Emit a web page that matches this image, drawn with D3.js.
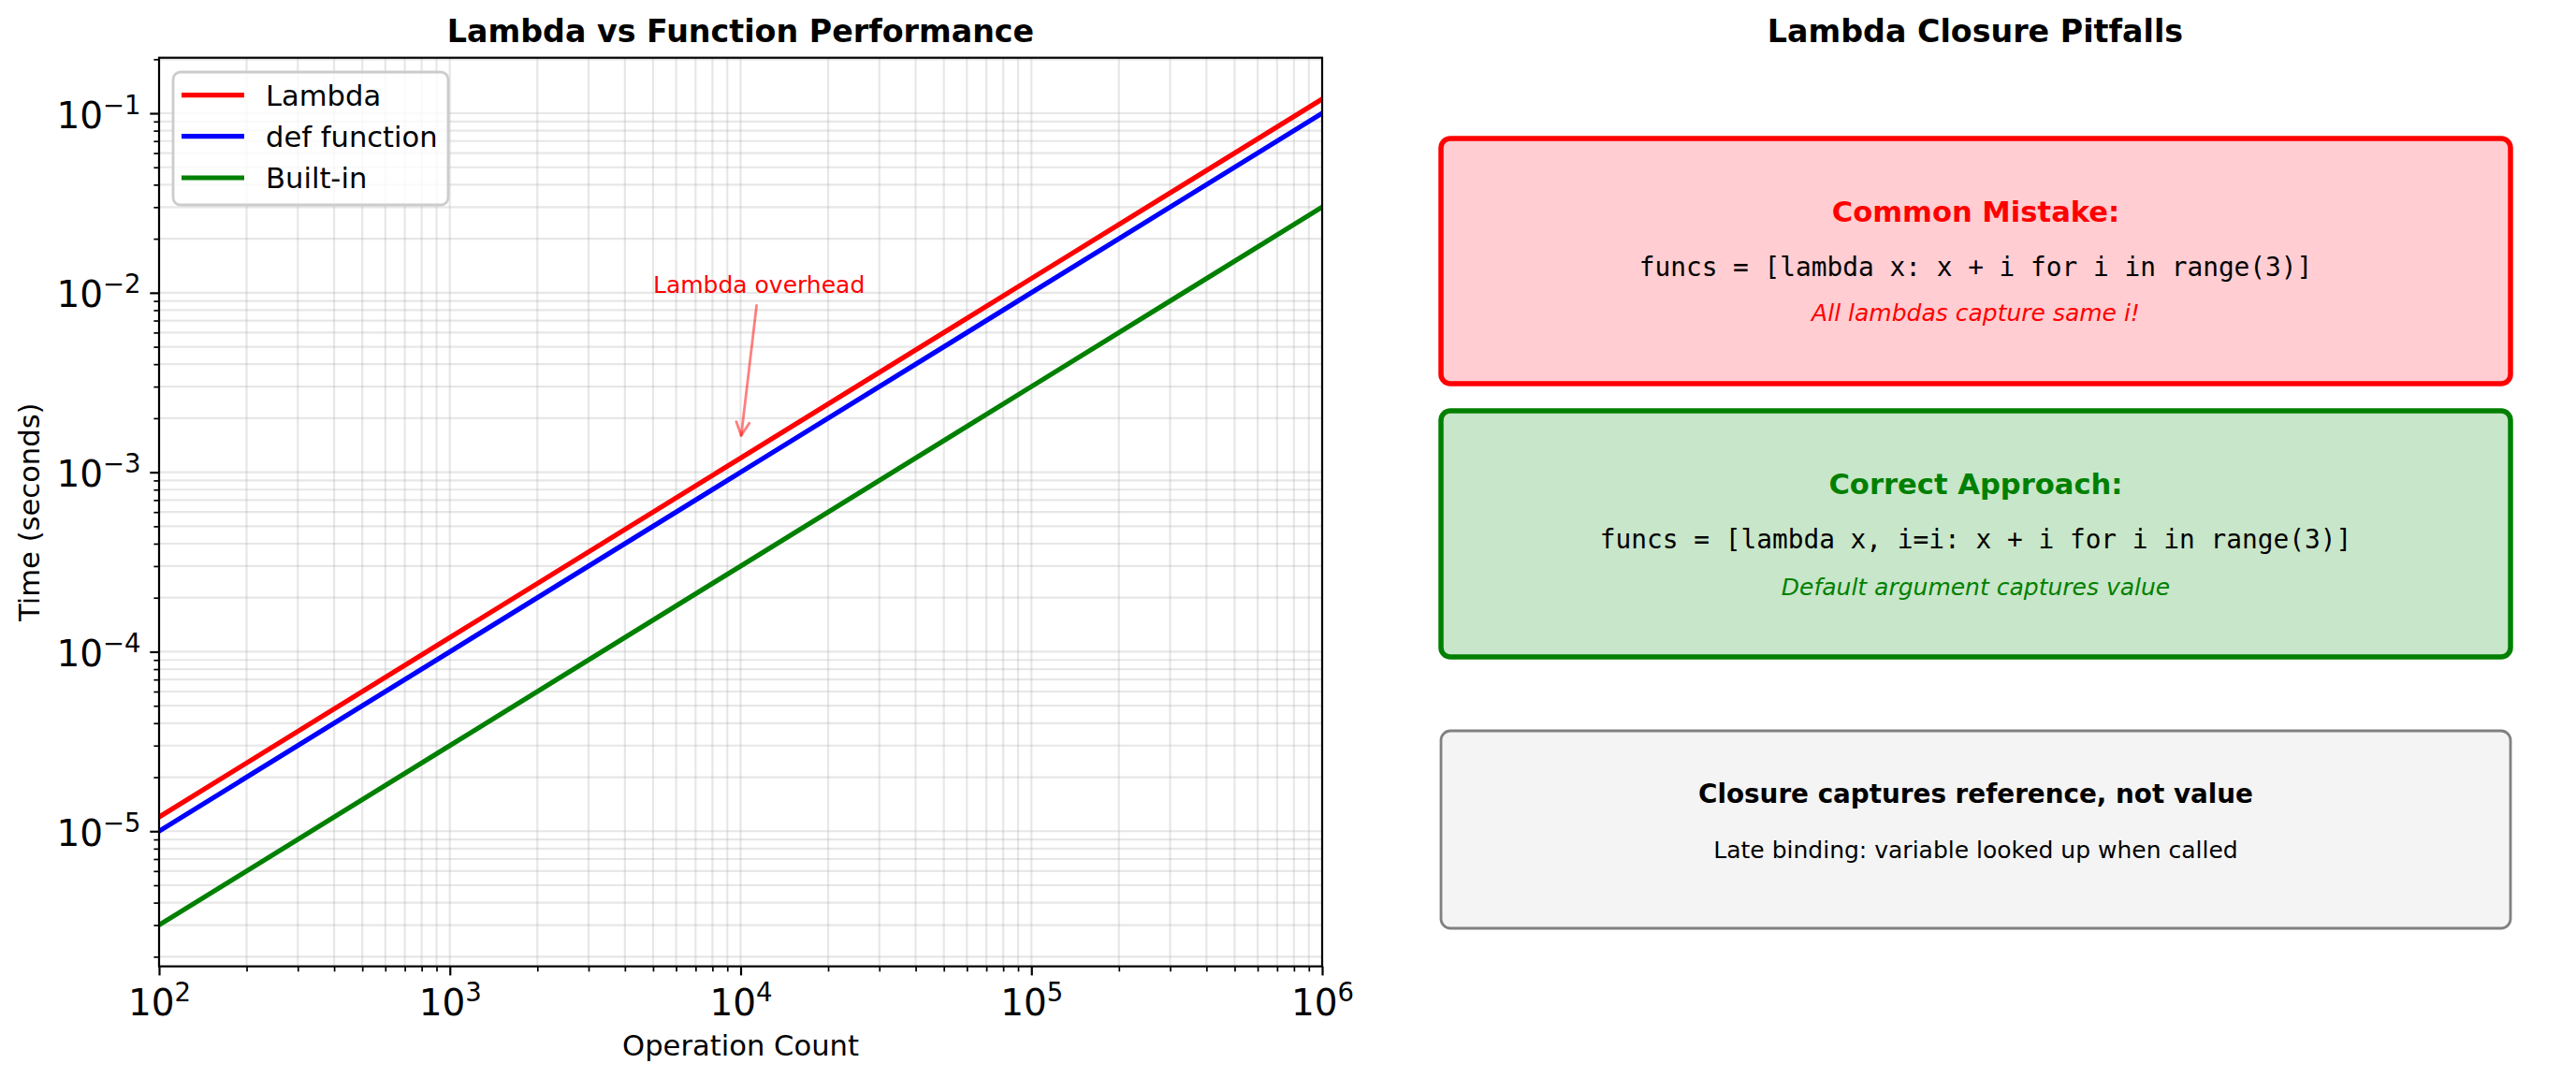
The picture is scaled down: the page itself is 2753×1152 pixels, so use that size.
<!DOCTYPE html>
<html>
<head>
<meta charset="utf-8">
<script src="https://cdn.jsdelivr.net/npm/d3@7"></script>
<style>
  html, body { margin: 0; padding: 0; background: #ffffff; }
  svg { display: block; }
  text { font-family: "DejaVu Sans", sans-serif; }
</style>
</head>
<body>
<svg id="chart" width="2753" height="1152"></svg>
<script>
// ---------------- data ----------------
const operationCounts = [1e2, 1e3, 1e4, 1e5, 1e6];
const lambdaTimes   = [1.2e-5, 1.2e-4, 1.2e-3, 1.2e-2, 1.2e-1];
const defTimes      = [1.0e-5, 1.0e-4, 1.0e-3, 1.0e-2, 1.0e-1];
const builtinTimes  = [3.0e-6, 3.0e-5, 3.0e-4, 3.0e-3, 3.0e-2];
const seriesNames   = ["Lambda", "def function", "Built-in"];
const xTickValues   = [1e2, 1e3, 1e4, 1e5, 1e6];
const yTickValues   = [1e-5, 1e-4, 1e-3, 1e-2, 1e-1];
const annotationText = "Lambda overhead";
const annotationTextAt = [5000, 0.01];
const annotationPointAt = [1e4, 1.5e-3];

const leftTitle  = "Lambda vs Function Performance";
const rightTitle = "Lambda Closure Pitfalls";
const xLabel = "Operation Count";
const yLabel = "Time (seconds)";

const boxTitles = ["Common Mistake:", "Correct Approach:", "Closure captures reference, not value"];
const boxCode   = ["funcs = [lambda x: x + i for i in range(3)]", "funcs = [lambda x, i=i: x + i for i in range(3)]", ""];
const boxNotes  = ["All lambdas capture same i!", "Default argument captures value", "Late binding: variable looked up when called"];

// ---------------- styles ----------------
const seriesColors = ["#ff0000", "#0000ff", "#008000"];
const svg = d3.select("#chart");

const plot = { left: 170, right: 1413, top: 61.7, bottom: 1032.7 };

// log-scale autoscale with 5% margin (in log space) on y
const allY = lambdaTimes.concat(defTimes, builtinTimes);
const lo = Math.log10(d3.min(allY)), hi = Math.log10(d3.max(allY));
const m = 0.05 * (hi - lo);

const x = d3.scaleLog().domain([d3.min(operationCounts), d3.max(operationCounts)]).range([plot.left, plot.right]);
const y = d3.scaleLog().domain([Math.pow(10, lo - m), Math.pow(10, hi + m)]).range([plot.bottom, plot.top]);

function minorTicks(scale) {
  const [a, b] = scale.domain();
  const out = [];
  for (let e = Math.floor(Math.log10(a)); e <= Math.ceil(Math.log10(b)); e++) {
    for (let k = 2; k <= 9; k++) {
      const v = k * Math.pow(10, e);
      if (v >= a * 0.9999 && v <= b * 1.0001) out.push(v);
    }
  }
  return out;
}
const xMinor = minorTicks(x), yMinor = minorTicks(y);

// ---------------- grid ----------------
const grid = svg.append("g").attr("stroke", "#b0b0b0").attr("stroke-opacity", 0.3).attr("stroke-width", 2.2);
grid.selectAll("line.gx").data(xTickValues.concat(xMinor)).join("line")
  .attr("x1", d => x(d)).attr("x2", d => x(d)).attr("y1", plot.top).attr("y2", plot.bottom);
grid.selectAll("line.gy").data(yTickValues.concat(yMinor)).join("line")
  .attr("class", "gy")
  .attr("y1", d => y(d)).attr("y2", d => y(d)).attr("x1", plot.left).attr("x2", plot.right);

// ---------------- lines ----------------
const seriesData = [lambdaTimes, defTimes, builtinTimes];
const line = d3.line().x((d, i) => x(operationCounts[i])).y(d => y(d));
const clip = svg.append("clipPath").attr("id", "plotclip").append("rect")
  .attr("x", plot.left).attr("y", plot.top).attr("width", plot.right - plot.left).attr("height", plot.bottom - plot.top);
svg.append("g").attr("clip-path", "url(#plotclip)")
  .selectAll("path").data(seriesData).join("path")
  .attr("d", d => line(d)).attr("fill", "none")
  .attr("stroke", (d, i) => seriesColors[i]).attr("stroke-width", 5.2)
  .attr("stroke-linecap", "square");

// ---------------- axes ----------------
function supLabel(sel, d) {
  const e = Math.round(Math.log10(d));
  sel.text(null);
  sel.append("tspan").text("10");
  sel.append("tspan").attr("font-size", 27.5).attr("dy", -15).text(e < 0 ? "\u2212" + (-e) : String(e));
}

const xAxisMajor = d3.axisBottom(x).tickValues(xTickValues).tickSize(9.7).tickPadding(9.7).tickSizeOuter(0).tickFormat(() => "");
const gxM = svg.append("g").attr("transform", `translate(0,${plot.bottom})`).call(xAxisMajor);
const xAxisMinor = d3.axisBottom(x).tickValues(xMinor).tickSize(5.6).tickSizeOuter(0).tickFormat(() => "");
const gxm = svg.append("g").attr("transform", `translate(0,${plot.bottom})`).call(xAxisMinor);
const yAxisMajor = d3.axisLeft(y).tickValues(yTickValues).tickSize(9.7).tickSizeOuter(0).tickFormat(() => "");
const gyM = svg.append("g").attr("transform", `translate(${plot.left},0)`).call(yAxisMajor);
const yAxisMinor = d3.axisLeft(y).tickValues(yMinor).tickSize(5.6).tickSizeOuter(0).tickFormat(() => "");
const gym = svg.append("g").attr("transform", `translate(${plot.left},0)`).call(yAxisMinor);

[gxM, gxm, gyM, gym].forEach(g => { g.select(".domain").remove(); g.selectAll("text").remove(); });
gxM.selectAll(".tick line").attr("stroke", "#000").attr("stroke-width", 2.2);
gyM.selectAll(".tick line").attr("stroke", "#000").attr("stroke-width", 2.2);
gxm.selectAll(".tick line").attr("stroke", "#000").attr("stroke-width", 1.7);
gym.selectAll(".tick line").attr("stroke", "#000").attr("stroke-width", 1.7);

gxM.selectAll(".tick").append("text")
  .attr("y", 52.3).attr("text-anchor", "middle").attr("font-size", 39).attr("fill", "#000")
  .each(function(d) { supLabel(d3.select(this), d); });
gyM.selectAll(".tick").append("text")
  .attr("x", -19.4).attr("y", 15).attr("text-anchor", "end").attr("font-size", 39).attr("fill", "#000")
  .each(function(d) { supLabel(d3.select(this), d); });

// spines
svg.append("rect").attr("x", plot.left).attr("y", plot.top)
  .attr("width", plot.right - plot.left).attr("height", plot.bottom - plot.top)
  .attr("fill", "none").attr("stroke", "#000").attr("stroke-width", 2.2);

// axis labels
svg.append("text").attr("x", (plot.left + plot.right) / 2).attr("y", 1128)
  .attr("text-anchor", "middle").attr("font-size", 30.6).text(xLabel);
svg.append("text").attr("transform", `translate(42,${(plot.top + plot.bottom) / 2}) rotate(-90)`)
  .attr("text-anchor", "middle").attr("font-size", 30.6).text(yLabel);

// titles
svg.append("text").attr("x", (plot.left + plot.right) / 2).attr("y", 45)
  .attr("text-anchor", "middle").attr("font-size", 33.3).attr("font-weight", "bold").text(leftTitle);
svg.append("text").attr("x", 2111).attr("y", 45)
  .attr("text-anchor", "middle").attr("font-size", 33.3).attr("font-weight", "bold").text(rightTitle);

// ---------------- annotation ----------------
const ann = svg.append("text").attr("x", x(annotationTextAt[0])).attr("y", y(annotationTextAt[1]))
  .attr("font-size", 25).attr("fill", "#ff0000").text(annotationText);
const tw = ann.node().getComputedTextLength();
const sx = x(annotationTextAt[0]) + tw / 2, sy0 = y(annotationTextAt[1]) - 8;
const tx = x(annotationPointAt[0]), ty = y(annotationPointAt[1]);
const dx = tx - sx, dy = ty - sy0, L = Math.hypot(dx, dy);
const ux = dx / L, uy = dy / L;
// start at text bbox bottom + shrink
const tStart = (y(annotationTextAt[1]) + 8 - sy0) / uy + 5.6;
const ax1 = sx + ux * tStart, ay1 = sy0 + uy * tStart;
const ax2 = tx - ux * 5.6, ay2 = ty - uy * 5.6;
const arrowG = svg.append("g").attr("stroke", "#ff0000").attr("stroke-opacity", 0.5)
  .attr("stroke-width", 2.8).attr("fill", "none").attr("stroke-linecap", "round").attr("stroke-linejoin", "round");
arrowG.append("line").attr("x1", ax1).attr("y1", ay1).attr("x2", ax2).attr("y2", ay2);
const hl = 14, hw = 7;
const px = -uy, py = ux;
arrowG.append("path").attr("d",
  `M${ax2 - ux * hl + px * hw},${ay2 - uy * hl + py * hw} L${ax2},${ay2} L${ax2 - ux * hl - px * hw},${ay2 - uy * hl - py * hw}`);

// ---------------- legend ----------------
const leg = svg.append("g");
leg.append("rect").attr("x", 185).attr("y", 77).attr("width", 294).attr("height", 142)
  .attr("rx", 8).attr("fill", "#ffffff").attr("fill-opacity", 0.8)
  .attr("stroke", "#cccccc").attr("stroke-width", 2.8);
const legRowY = [101.7, 145.7, 190];
seriesNames.forEach((name, i) => {
  leg.append("line").attr("x1", 194).attr("x2", 261).attr("y1", legRowY[i]).attr("y2", legRowY[i])
    .attr("stroke", seriesColors[i]).attr("stroke-width", 5.2);
  leg.append("text").attr("x", 284).attr("y", legRowY[i] + 11).attr("font-size", 30.6).text(name);
});

// ---------------- right panel boxes ----------------
const boxes = [
  { y0: 148, y1: 410, fill: "#ffcdd2", stroke: "#ff0000", sw: 5.5, titleColor: "#ff0000", noteColor: "#ff0000",
    tY: 237, cY: 295, nY: 343, titleSize: 30.6, noteItalic: true },
  { y0: 439, y1: 702, fill: "#c8e6c9", stroke: "#008000", sw: 5.5, titleColor: "#008000", noteColor: "#008000",
    tY: 528, cY: 586, nY: 636, titleSize: 30.6, noteItalic: true },
  { y0: 781, y1: 992, fill: "#f4f4f4", stroke: "#808080", sw: 2.8, titleColor: "#000000", noteColor: "#000000",
    tY: 858, cY: 0, nY: 917, titleSize: 27.8, noteItalic: false }
];
const bx0 = 1540, bx1 = 2683, bcx = (bx0 + bx1) / 2;
boxes.forEach((b, i) => {
  const g = svg.append("g");
  g.append("rect").attr("x", bx0).attr("y", b.y0).attr("width", bx1 - bx0).attr("height", b.y1 - b.y0)
    .attr("rx", 10).attr("fill", b.fill).attr("stroke", b.stroke).attr("stroke-width", b.sw);
  g.append("text").attr("x", bcx).attr("y", b.tY).attr("text-anchor", "middle")
    .attr("font-size", b.titleSize).attr("font-weight", "bold").attr("fill", b.titleColor).text(boxTitles[i]);
  if (boxCode[i]) {
    g.append("text").attr("x", bcx).attr("y", b.cY).attr("text-anchor", "middle")
      .attr("font-size", 27.8).attr("fill", "#000").style("font-family", "'DejaVu Sans Mono', monospace").text(boxCode[i]);
  }
  g.append("text").attr("x", bcx).attr("y", b.nY).attr("text-anchor", "middle")
    .attr("font-size", 25).attr("font-style", b.noteItalic ? "italic" : "normal").attr("fill", b.noteColor).text(boxNotes[i]);
});
</script>
</body>
</html>
